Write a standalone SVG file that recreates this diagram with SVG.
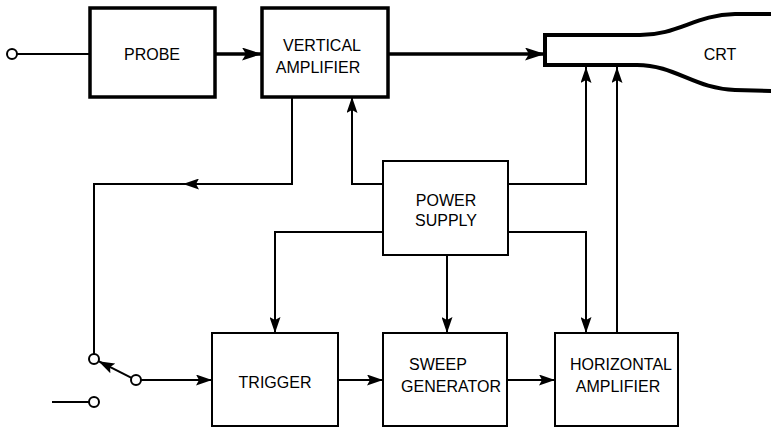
<svg xmlns="http://www.w3.org/2000/svg" width="771" height="429" viewBox="0 0 771 429">
<style>
.thick{fill:#fff;stroke:#000;stroke-width:3.5}
.box{fill:#fff;stroke:#000;stroke-width:2}
.ln{fill:none;stroke:#000;stroke-width:2}
.tk{fill:none;stroke:#000;stroke-width:3.5}
.c{fill:#fff;stroke:#000;stroke-width:2}
text{font-family:"Liberation Sans",Arial,sans-serif;font-size:16px;fill:#000;text-anchor:middle}
</style>
<defs>
<marker id="a" markerUnits="userSpaceOnUse" markerWidth="16" markerHeight="11" refX="16" refY="5.5" orient="auto" viewBox="0 0 16 11">
<path d="M0,0 L16,5.5 L0,11 L3,5.5 z" fill="#000"/>
</marker>
<marker id="b" markerUnits="userSpaceOnUse" markerWidth="20" markerHeight="13" refX="20" refY="6.5" orient="auto" viewBox="0 0 20 13">
<path d="M0,0 L20,6.5 L0,13 L4,6.5 z" fill="#000"/>
</marker>
</defs>
<g id="connectors">
<circle class="c" cx="12" cy="54" r="5"/>
<line class="ln" x1="17" y1="54" x2="90" y2="54"/>
<line class="tk" x1="215" y1="54" x2="262" y2="54" marker-end="url(#b)"/>
<line class="tk" x1="388" y1="54" x2="545" y2="54" marker-end="url(#b)"/>
<path class="ln" d="M292,97 V184 H183" marker-end="url(#a)"/>
<path class="ln" d="M186,184 H94 V354"/>
<path class="ln" d="M383,184 H352 V97" marker-end="url(#a)"/>
<path class="ln" d="M383,232 H275 V333" marker-end="url(#a)"/>
<path class="ln" d="M447,255 V333" marker-end="url(#a)"/>
<path class="ln" d="M508,184 H586 V67" marker-end="url(#a)"/>
<path class="ln" d="M508,232 H586 V333" marker-end="url(#a)"/>
<path class="ln" d="M617,333 V67" marker-end="url(#a)"/>
<circle class="c" cx="94" cy="359" r="5"/>
<circle class="c" cx="136" cy="380" r="5"/>
<circle class="c" cx="94" cy="402" r="5"/>
<line class="ln" x1="131.5" y1="377.8" x2="98.5" y2="361.2" marker-end="url(#a)"/>
<line class="ln" x1="141" y1="380" x2="212" y2="380" marker-end="url(#a)"/>
<line class="ln" x1="52" y1="402" x2="89" y2="402"/>
<line class="ln" x1="338" y1="380" x2="383" y2="380" marker-end="url(#a)"/>
<line class="ln" x1="507" y1="380" x2="555" y2="380" marker-end="url(#a)"/>
</g>
<g id="probe">
<rect class="thick" x="90" y="8" width="125" height="89"/>
<text x="152" y="60">PROBE</text>
</g>
<g id="vertical-amplifier">
<rect class="thick" x="262" y="8" width="126" height="89"/>
<text x="322" y="51">VERTICAL</text>
<text x="318" y="73">AMPLIFIER</text>
</g>
<g id="crt">
<path d="M545,35 L640,35 C678,35 695,15 735,14 L775,14 L775,91 L735,90 C695,89 675,65 637,65 L545,65 Z" fill="#fff" stroke="#000" stroke-width="4"/>
<text x="720" y="60">CRT</text>
</g>
<g id="power-supply">
<rect class="box" x="383" y="161" width="125" height="94"/>
<text x="446" y="206">POWER</text>
<text x="446" y="226">SUPPLY</text>
</g>
<g id="trigger">
<rect class="box" x="212" y="333" width="126" height="93"/>
<text x="275" y="388">TRIGGER</text>
</g>
<g id="sweep-generator">
<rect class="box" x="383" y="333" width="124" height="93"/>
<text x="438" y="370">SWEEP</text>
<text x="451" y="392">GENERATOR</text>
</g>
<g id="horizontal-amplifier">
<rect class="box" x="555" y="333" width="123" height="93"/>
<text x="621" y="370">HORIZONTAL</text>
<text x="618" y="392">AMPLIFIER</text>
</g>
</svg>
